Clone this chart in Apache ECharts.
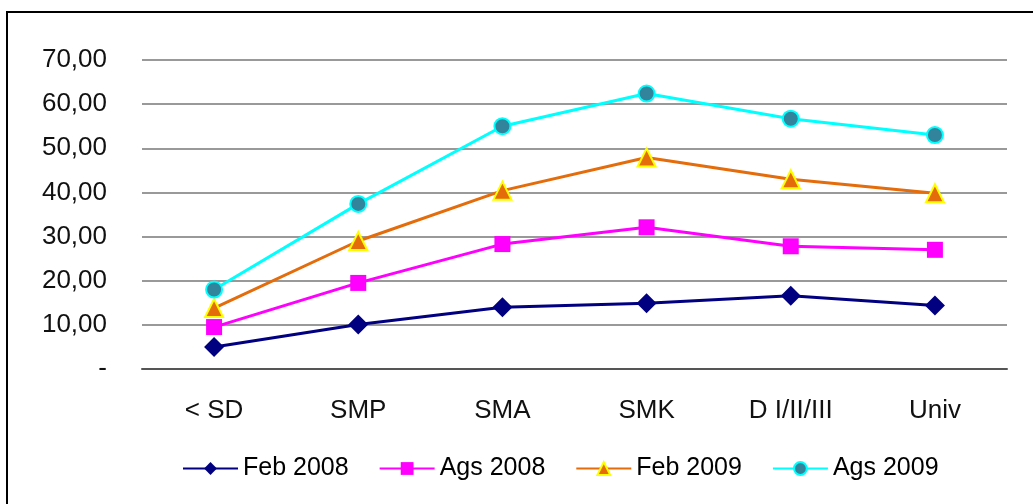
<!DOCTYPE html>
<html>
<head>
<meta charset="utf-8">
<script src="https://cdn.jsdelivr.net/npm/echarts@6/dist/echarts.min.js"></script>
<style>
    html, body { margin: 0; padding: 0; background: #fff; }
    #chart { width: 1033px; height: 504px; }
</style>
</head>
<body>
<div id="chart"></div>
<script>
// kategori pendidikan
const categories = ['< SD', 'SMP', 'SMA', 'SMK', 'D I/II/III', 'Univ'];
const feb2008 = [5.0, 10.1, 14.0, 14.9, 16.6, 14.4];
const ags2008 = [9.5, 19.5, 28.3, 32.1, 27.8, 27.0];
const feb2009 = [13.8, 29.0, 40.4, 47.9, 43.0, 39.8];
const ags2009 = [18.0, 37.4, 55.0, 62.4, 56.7, 53.0];
const yTicks = [0, 10, 20, 30, 40, 50, 60, 70];

const chart = echarts.init(document.getElementById('chart'));
const font = 'Liberation Sans, Arial, sans-serif';

let option = {
    animation: false,
    grid: { left: 142, right: 26, top: 60, bottom: 135 },
    graphic: [{
        type: 'rect',
        shape: { x: 7, y: 12, width: 1100, height: 600 },
        style: { fill: 'none', stroke: '#000', lineWidth: 2 }
    }],
    legend: {
        top: 451,
        left: 177,
        itemWidth: 55,
        itemHeight: 16,
        itemGap: 30,
        textStyle: { fontFamily: font, fontSize: 25, color: '#000' },
        data: ['Feb 2008', 'Ags 2008', 'Feb 2009', 'Ags 2009']
    },
    xAxis: {
        type: 'category',
        data: categories,
        axisLine: { lineStyle: { color: '#555', width: 2 } },
        axisTick: { inside: false, length: 8, lineStyle: { color: '#555', width: 2 } },
        axisLabel: { fontFamily: font, fontSize: 26, color: '#111', margin: 29 }
    },
    yAxis: {
        type: 'value',
        min: yTicks[0],
        max: yTicks[yTicks.length - 1],
        interval: 10,
        axisLine: { show: false },
        axisTick: { show: false },
        splitLine: { lineStyle: { color: '#999', width: 2 } },
        axisLabel: {
            fontFamily: font, fontSize: 26, color: '#111', margin: 35,
            formatter: v => v === 0 ? '-' : v.toFixed(2).replace('.', ',')
        }
    },
    series: [{
        name: 'Feb 2008',
        type: 'line',
        data: feb2008,
        symbol: 'diamond',
        symbolSize: 20,
        color: '#000080',
        lineStyle: { width: 3 }
    }, {
        name: 'Ags 2008',
        type: 'line',
        data: ags2008,
        symbol: 'rect',
        symbolSize: 16,
        color: '#ff00ff',
        lineStyle: { width: 3 }
    }, {
        name: 'Feb 2009',
        type: 'line',
        data: feb2009,
        symbol: 'triangle',
        symbolSize: 18,
        color: '#e46c0a',
        itemStyle: { color: '#e46c0a', borderColor: '#ffff00', borderWidth: 2 },
        lineStyle: { width: 3, color: '#e46c0a' }
    }, {
        name: 'Ags 2009',
        type: 'line',
        data: ags2009,
        symbol: 'circle',
        symbolSize: 16,
        color: '#00ffff',
        itemStyle: { color: '#31849b', borderColor: '#00ffff', borderWidth: 2 },
        lineStyle: { width: 3, color: '#00ffff' }
    }]
};
chart.setOption(option);
</script>
</body>
</html>
